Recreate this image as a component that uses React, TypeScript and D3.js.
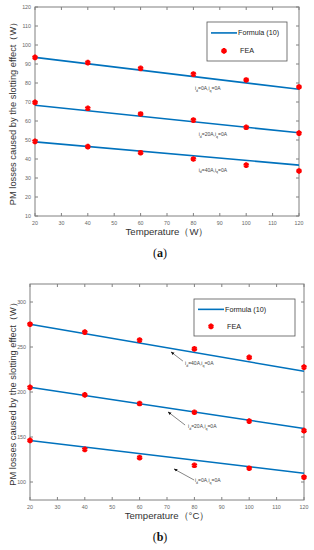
import React, { useEffect, useRef } from 'react';
import * as d3 from 'd3';

// temperatures where FEA was evaluated
const temps = [20, 40, 60, 80, 100, 120];
const lineTemps = [20, 120];

// panel (a)
const feaA0 = [93.5, 90.7, 87.7, 84.7, 81.6, 77.9];
const feaA20 = [69.8, 66.7, 63.7, 60.5, 56.7, 53.6];
const feaA40 = [49.3, 46.5, 43.3, 40.0, 36.8, 33.7];
const formulaA0 = [93.5, 76.7];
const formulaA20 = [68.3, 53.8];
const formulaA40 = [49.0, 36.8];

// panel (b)
const feaB40 = [275.3, 266.5, 257.6, 248.0, 238.4, 227.7];
const feaB20 = [205.2, 196.8, 187.2, 177.5, 167.6, 157.0];
const feaB0 = [146.2, 136.3, 127.0, 118.6, 115.3, 105.3];
const formulaB40 = [275.3, 223.0];
const formulaB20 = [205.2, 159.5];
const formulaB0 = [146.2, 109.7];

const xTicks = [20, 30, 40, 50, 60, 70, 80, 90, 100, 110, 120];
const yTicksA = [10, 20, 30, 40, 50, 60, 70, 80, 90, 100, 110, 120];
const yTicksB = [100, 150, 200, 250, 300];

const yLabel = 'PM losses caused by the slotting effect（W）';

type Note = { id: string; x: number; y: number; arrow?: [number, number, number, number] };

const notesA: Note[] = [
  { id: '0', x: 80.6, y: 76.3 },
  { id: '20', x: 82, y: 52.1 },
  { id: '40', x: 82, y: 33.2 },
];
const notesB: Note[] = [
  { id: '40', x: 76.6, y: 230, arrow: [75.8, 234.4, 71.5, 244.4] },
  { id: '20', x: 77.7, y: 160, arrow: [76.6, 163.3, 70.4, 177.8] },
  { id: '0', x: 80.2, y: 100, arrow: [79.9, 102.2, 72.6, 114.4] },
];

const BLUE = '#0072BD';
const AXIS = '#808080';
const FONT = 'Liberation Sans, Arial, sans-serif';

function drawPanel(svg: any, opt: any) {
  const { left, right, top, bottom, yDomain, yTicks, fea, formula, notes, xTitle, tag, legend } = opt;
  const x = d3.scaleLinear().domain([20, 120]).range([left, right]);
  const y = d3.scaleLinear().domain(yDomain).range([bottom, top]);
  const g = svg.append('g');

  // axes box with inward ticks
  g.append('rect')
    .attr('x', left).attr('y', top)
    .attr('width', right - left).attr('height', bottom - top)
    .attr('fill', 'none').attr('stroke', AXIS).attr('stroke-width', 1);

  const tl = 3;
  xTicks.forEach((t) => {
    g.append('line').attr('x1', x(t)).attr('x2', x(t)).attr('y1', bottom).attr('y2', bottom - tl).attr('stroke', AXIS);
    g.append('line').attr('x1', x(t)).attr('x2', x(t)).attr('y1', top).attr('y2', top + tl).attr('stroke', AXIS);
    g.append('text').attr('x', x(t)).attr('y', bottom + 9)
      .attr('text-anchor', 'middle').attr('font-size', 5.3).attr('fill', '#666')
      .attr('font-family', FONT).text(t);
  });
  yTicks.forEach((t) => {
    g.append('line').attr('x1', left).attr('x2', left + tl).attr('y1', y(t)).attr('y2', y(t)).attr('stroke', AXIS);
    g.append('line').attr('x1', right).attr('x2', right - tl).attr('y1', y(t)).attr('y2', y(t)).attr('stroke', AXIS);
    g.append('text').attr('x', left - 4).attr('y', y(t) + 2)
      .attr('text-anchor', 'end').attr('font-size', 5.3).attr('fill', '#666')
      .attr('font-family', FONT).text(t);
  });

  // formula lines
  const line = d3.line<number>().x((d, i) => x(lineTemps[i])).y((d) => y(d));
  formula.forEach((s: number[]) => {
    g.append('path').attr('d', line(s)).attr('fill', 'none').attr('stroke', BLUE).attr('stroke-width', 1.6);
  });

  // FEA markers
  const star = d3.symbol().type(d3.symbolAsterisk).size(22);
  fea.forEach((s: number[]) => {
    g.selectAll(null).data(s).enter().append('path')
      .attr('d', star())
      .attr('transform', (d: number, i: number) => `translate(${x(temps[i])},${y(d)})`)
      .attr('fill', 'red').attr('stroke', 'red').attr('stroke-width', 2.2);
  });

  // annotations
  notes.forEach((n: Note) => {
    if (n.arrow) {
      const [x1, y1, x2, y2] = n.arrow;
      g.append('line').attr('x1', x(x1)).attr('y1', y(y1)).attr('x2', x(x2)).attr('y2', y(y2))
        .attr('stroke', '#333').attr('stroke-width', 0.6).attr('marker-end', 'url(#arrowhead)');
    }
    const t = g.append('text').attr('x', x(n.x)).attr('y', y(n.y))
      .attr('font-size', 5).attr('fill', '#444').attr('font-family', FONT);
    t.append('tspan').text('i');
    t.append('tspan').attr('font-size', 3.5).attr('dy', 1.5).text('d');
    t.append('tspan').attr('dy', -1.5).text(`=${n.id}A,i`);
    t.append('tspan').attr('font-size', 3.5).attr('dy', 1.5).text('q');
    t.append('tspan').attr('dy', -1.5).text('=0A');
  });

  // legend
  const lg = g.append('g');
  lg.append('rect').attr('x', legend.x).attr('y', legend.y).attr('width', legend.w).attr('height', legend.h)
    .attr('fill', 'white').attr('stroke', '#555').attr('stroke-width', 0.8);
  lg.append('line').attr('x1', legend.x + 4).attr('x2', legend.x + 30)
    .attr('y1', legend.y + legend.h * 0.28).attr('y2', legend.y + legend.h * 0.28)
    .attr('stroke', BLUE).attr('stroke-width', 1.6);
  lg.append('text').attr('x', legend.x + 31).attr('y', legend.y + legend.h * 0.28 + 2.5)
    .attr('font-size', 7.2).attr('fill', '#222').attr('font-family', FONT)
    .text('Formula (10)');
  lg.append('path').attr('d', star())
    .attr('transform', `translate(${legend.x + 17},${legend.y + legend.h * 0.74})`)
    .attr('fill', 'red').attr('stroke', 'red').attr('stroke-width', 2.2);
  lg.append('text').attr('x', legend.x + 33).attr('y', legend.y + legend.h * 0.74 + 2.5)
    .attr('font-size', 7.2).attr('fill', '#222').attr('font-family', FONT)
    .text('FEA');

  // axis titles
  const cy = (top + bottom) / 2;
  g.append('text').attr('transform', `translate(16,${cy}) rotate(-90)`)
    .attr('text-anchor', 'middle').attr('font-size', 9.3).attr('fill', '#333')
    .attr('font-family', FONT).text(yLabel);
  g.append('text').attr('x', 167).attr('y', bottom + 19)
    .attr('text-anchor', 'middle').attr('font-size', 9.6).attr('fill', '#333')
    .attr('font-family', FONT).text(xTitle);
  const tg = g.append('text').attr('x', 160).attr('y', bottom + 41)
    .attr('text-anchor', 'middle').attr('font-size', 12).attr('fill', '#111')
    .attr('font-family', 'Liberation Serif, Times New Roman, serif');
  tg.append('tspan').text('(');
  tg.append('tspan').attr('font-weight', 'bold').text(tag);
  tg.append('tspan').text(')');
}

export default function App() {
  const ref = useRef<SVGSVGElement>(null);

  useEffect(() => {
    const svg = d3.select(ref.current);
    svg.selectAll('*').remove();

    svg.append('defs').append('marker')
      .attr('id', 'arrowhead').attr('viewBox', '0 0 10 10')
      .attr('refX', 9).attr('refY', 5)
      .attr('markerWidth', 6).attr('markerHeight', 6)
      .attr('orient', 'auto')
      .append('path').attr('d', 'M0,1 L10,5 L0,9 Z').attr('fill', '#111');

    drawPanel(svg, {
      left: 35, right: 299, top: 7, bottom: 216,
      yDomain: [10, 120], yTicks: yTicksA,
      fea: [feaA0, feaA20, feaA40],
      formula: [formulaA0, formulaA20, formulaA40],
      notes: notesA,
      xTitle: 'Temperature（W）', tag: 'a',
      legend: { x: 207, y: 22, w: 80, h: 39 },
    });
    drawPanel(svg, {
      left: 30, right: 304, top: 284, bottom: 500,
      yDomain: [80, 320], yTicks: yTicksB,
      fea: [feaB40, feaB20, feaB0],
      formula: [formulaB40, formulaB20, formulaB0],
      notes: notesB,
      xTitle: 'Temperature（°C）', tag: 'b',
      legend: { x: 194, y: 299, w: 101, h: 37 },
    });
  }, []);

  return (
    <svg ref={ref} width={314} height={550}
      style={{ position: 'absolute', left: 0, top: 0, background: 'white' }} />
  );
}
